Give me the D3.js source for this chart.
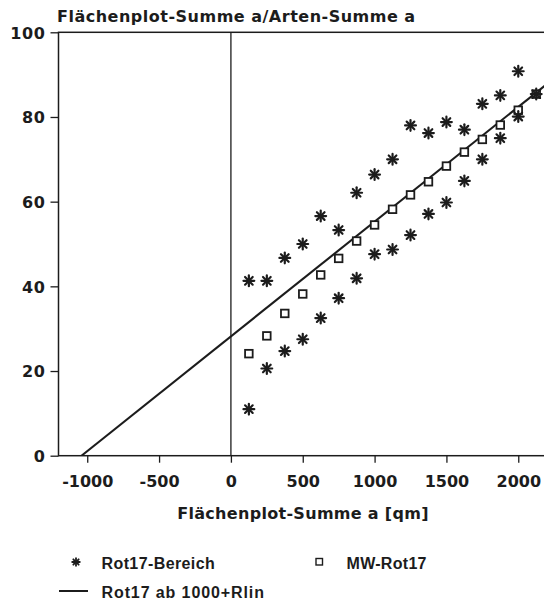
<!DOCTYPE html>
<html>
<head>
<meta charset="utf-8">
<script src="https://cdn.jsdelivr.net/npm/d3@7"></script>
<style>
  body { margin: 0; background: #fff; }
  text { font-family: "DejaVu Sans", sans-serif; font-weight: bold; fill: #1c1c1c; }
</style>
</head>
<body>
<script>
// values
var xSteps = [125, 250, 375, 500, 625, 750, 875, 1000, 1125, 1250, 1375, 1500, 1625, 1750, 1875, 2000, 2125];
var bereichOben = [41.3, 41.3, 46.7, 50.0, 56.6, 53.3, 62.1, 66.4, 70.0, 78.0, 76.2, 78.8, 77.0, 83.1, 85.1, 90.8, null];
var bereichUnten = [11.0, 20.6, 24.7, 27.5, 32.5, 37.2, 41.9, 47.6, 48.7, 52.1, 57.1, 59.8, 64.9, 70.0, 75.0, 80.1, 85.4];
var mwRot17 = [24.1, 28.3, 33.6, 38.2, 42.7, 46.6, 50.7, 54.5, 58.2, 61.6, 64.7, 68.4, 71.7, 74.7, 78.1, 81.6, 85.4];
var rlinX = [-1040, 2200];
var rlinY = [0, 87.8];
var xTicks = [-1000, -500, 0, 500, 1000, 1500, 2000];
var yTicks = [0, 20, 40, 60, 80, 100];

var w = 544, h = 603;
var svg = d3.select("body").append("svg").attr("width", w).attr("height", h);

var x = d3.scaleLinear().domain([-1200, 2200]).range([58.5, 547]);
var y = d3.scaleLinear().domain([0, 100]).range([455.7, 32.3]);

var ink = "#1c1c1c";

// frame (right side runs off the page)
svg.append("rect")
  .attr("x", x(-1200)).attr("y", y(100))
  .attr("width", x(2200) - x(-1200)).attr("height", y(0) - y(100))
  .attr("fill", "none").attr("stroke", ink).attr("stroke-width", 1.5);

// vertical line at x = 0
svg.append("line")
  .attr("x1", x(0)).attr("x2", x(0)).attr("y1", y(100)).attr("y2", y(0))
  .attr("stroke", ink).attr("stroke-width", 1.3);

var xAxis = svg.append("g").attr("transform", "translate(0," + y(0) + ")")
  .call(d3.axisBottom(x).tickValues(xTicks).tickSize(7).tickPadding(8).tickFormat(d3.format("d")));
var yAxis = svg.append("g").attr("transform", "translate(" + x(-1200) + ",0)")
  .call(d3.axisLeft(y).tickValues(yTicks).tickSize(8).tickPadding(5));

[xAxis, yAxis].forEach(function (g) {
  g.select(".domain").remove();
  g.selectAll(".tick line").attr("stroke", ink).attr("stroke-width", 1.3);
  g.selectAll(".tick text").attr("font-size", 16).attr("fill", ink)
    .style("font-family", "DejaVu Sans").style("font-weight", "bold");
});
xAxis.selectAll(".tick text").text(function (d) { return d; }).attr("dy", "1em");
yAxis.selectAll(".tick text").attr("dy", "0.36em").attr("letter-spacing", 0.6);

// regression line
var rlin = rlinX.map(function (v, i) { return [v, rlinY[i]]; });
svg.append("clipPath").attr("id", "plotclip").append("rect")
  .attr("x", x(-1200)).attr("y", y(100)).attr("width", x(2200) - x(-1200)).attr("height", y(0) - y(100));
svg.append("path")
  .datum(rlin)
  .attr("clip-path", "url(#plotclip)")
  .attr("d", d3.line().x(function (d) { return x(d[0]); }).y(function (d) { return y(d[1]); }))
  .attr("fill", "none").attr("stroke", ink).attr("stroke-width", 2.1);

function star(g, cx, cy, r, sw) {
  for (var a = 0; a < 4; a++) {
    var t = a * Math.PI / 4;
    g.append("line")
      .attr("x1", cx - r * Math.cos(t)).attr("y1", cy - r * Math.sin(t))
      .attr("x2", cx + r * Math.cos(t)).attr("y2", cy + r * Math.sin(t))
      .attr("stroke", ink).attr("stroke-width", sw).attr("stroke-linecap", "round");
  }
}

// squares (MW-Rot17)
svg.append("g").selectAll("rect")
  .data(xSteps.map(function (v, i) { return [v, mwRot17[i]]; }))
  .enter().append("rect")
  .attr("x", function (d) { return x(d[0]) - 3.8; })
  .attr("y", function (d) { return y(d[1]) - 3.8; })
  .attr("width", 7.6).attr("height", 7.6)
  .attr("fill", "#fff").attr("stroke", ink).attr("stroke-width", 1.8);

// asterisks (Rot17-Bereich)
var stars = svg.append("g");
xSteps.forEach(function (v, i) {
  if (bereichOben[i] != null) star(stars, x(v), y(bereichOben[i]), 5.4, 2.2);
  if (bereichUnten[i] != null) star(stars, x(v), y(bereichUnten[i]), 5.4, 2.2);
});

// title and axis label
svg.append("text").attr("x", 57).attr("y", 21.5).attr("font-size", 16)
  .attr("letter-spacing", 0.5).text("Flächenplot-Summe a/Arten-Summe a");
svg.append("text").attr("x", 303).attr("y", 519).attr("font-size", 16)
  .attr("text-anchor", "middle").attr("letter-spacing", 0.3).text("Flächenplot-Summe a [qm]");

// legend
var leg = svg.append("g");
star(leg, 76, 562, 3.8, 1.8);
leg.append("text").attr("x", 101.5).attr("y", 569).attr("font-size", 16)
  .attr("letter-spacing", 0.4).style("font-family", "Liberation Sans").text("Rot17-Bereich");
leg.append("rect").attr("x", 316).attr("y", 558.5).attr("width", 6.5).attr("height", 6.5)
  .attr("fill", "#fff").attr("stroke", ink).attr("stroke-width", 1.4);
leg.append("text").attr("x", 346.5).attr("y", 569).attr("font-size", 16)
  .attr("letter-spacing", 0.3).style("font-family", "Liberation Sans").text("MW-Rot17");
leg.append("line").attr("x1", 59).attr("x2", 88).attr("y1", 591).attr("y2", 591)
  .attr("stroke", ink).attr("stroke-width", 2);
leg.append("text").attr("x", 101.5).attr("y", 597.5).attr("font-size", 16)
  .attr("letter-spacing", 0.9).style("font-family", "Liberation Sans").text("Rot17 ab 1000+Rlin");
</script>
</body>
</html>
